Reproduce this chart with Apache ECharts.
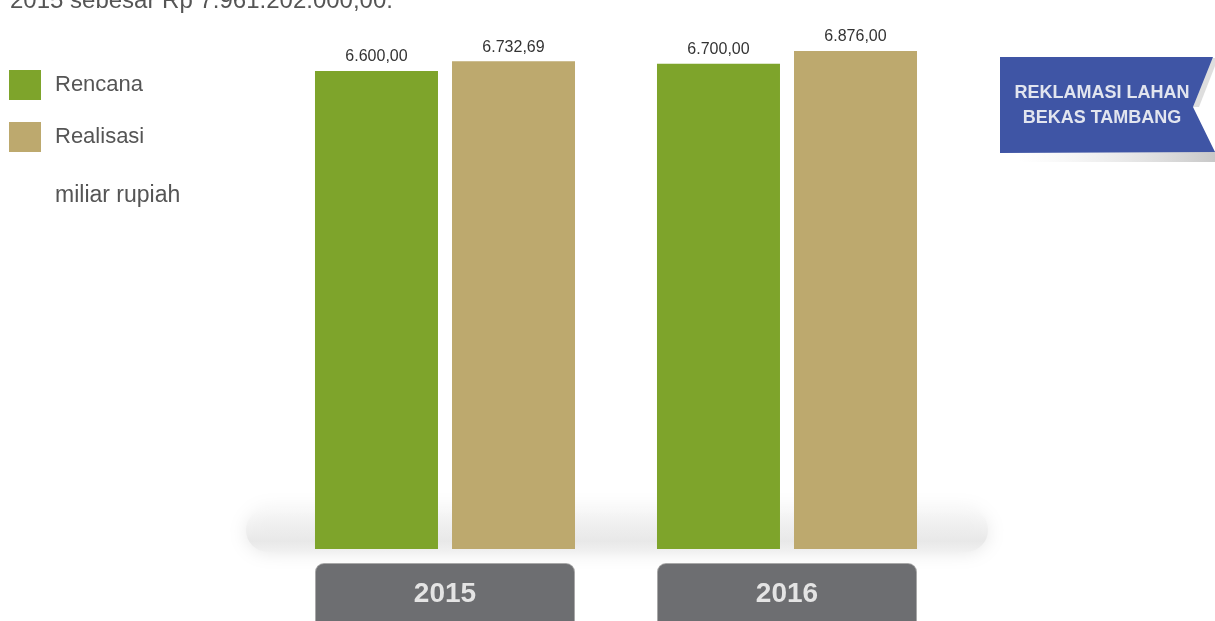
<!DOCTYPE html>
<html>
<head>
<meta charset="utf-8">
<script src="https://cdn.jsdelivr.net/npm/echarts@6/dist/echarts.min.js"></script>
<style>
html,body{margin:0;padding:0;background:#fff;}
#c{width:1215px;height:621px;}
</style>
</head>
<body>
<div id="c"></div>
<script>
const years = ['2015', '2016'];
const rencana = [6600.00, 6700.00];
const realisasi = [6732.69, 6876.00];
const seriesNames = ['Rencana', 'Realisasi'];
const unitLabel = 'miliar rupiah';
const titleText = '2015 sebesar Rp 7.961.202.000,00.';
const bannerText = 'REKLAMASI LAHAN\nBEKAS TAMBANG';

const SANS = '"Liberation Sans", Arial, sans-serif';

function fmt(v) {
  const parts = v.toFixed(2).split('.');
  return parts[0].replace(/\B(?=(\d{3})+(?!\d))/g, '.') + ',' + parts[1];
}

const chart = echarts.init(document.getElementById('c'), null, {renderer: 'canvas'});

const labelCfg = {
  show: true,
  position: 'top',
  distance: 6,
  color: '#333',
  fontSize: 16,
  fontFamily: SANS,
  formatter: p => fmt(p.value)
};

chart.setOption({
  backgroundColor: '#ffffff',
  animation: false,
  legend: {
    orient: 'vertical',
    left: 9,
    top: 70,
    padding: 0,
    itemWidth: 32,
    itemHeight: 30,
    itemGap: 22,
    icon: 'rect',
    selectedMode: false,
    data: seriesNames,
    textStyle: {
      fontSize: 22,
      color: '#555',
      fontFamily: SANS,
      padding: [3, 0, 0, 9]
    }
  },
  grid: {
    left: 274,
    width: 684,
    top: 42,
    height: 507,
    containLabel: false,
    outerBoundsMode: 'none'
  },
  xAxis: {
    type: 'category',
    data: years,
    axisLine: {show: false},
    axisTick: {show: false},
    splitLine: {show: false},
    axisLabel: {
      margin: 15,
      color: '#e4e4e4',
      fontSize: 28,
      fontWeight: 'bold',
      fontFamily: SANS,
      backgroundColor: '#6d6e71',
      borderColor: '#a8a8a8',
      borderWidth: 1,
      borderRadius: [8, 8, 0, 0],
      width: 258,
      height: 60,
      lineHeight: 60,
      align: 'center'
    }
  },
  yAxis: {
    type: 'value',
    min: 0,
    max: 7000,
    show: false
  },
  series: [
    {
      name: seriesNames[0],
      type: 'bar',
      data: rencana,
      barWidth: 123,
      barGap: '11.4%',
      itemStyle: {color: '#7ea42b'},
      label: labelCfg,
      z: 5
    },
    {
      name: seriesNames[1],
      type: 'bar',
      data: realisasi,
      barWidth: 123,
      itemStyle: {color: '#bda96e'},
      label: labelCfg,
      z: 5
    }
  ],
  graphic: [
    {
      type: 'rect',
      z: 0,
      silent: true,
      shape: {x: 246, y: 508, width: 742, height: 44, r: 22},
      style: {
        fill: new echarts.graphic.LinearGradient(0, 0, 0, 1, [
          {offset: 0, color: 'rgba(250,250,250,0.5)'},
          {offset: 0.75, color: '#e8e8e8'},
          {offset: 1, color: '#f1f1f1'}
        ]),
        shadowBlur: 18,
        shadowColor: 'rgba(210,210,210,0.6)'
      }
    },
    {
      type: 'text',
      left: 10,
      top: -11,
      silent: true,
      style: {
        text: titleText,
        fontSize: 24,
        fill: '#555',
        fontFamily: SANS
      }
    },
    {
      type: 'text',
      left: 55,
      top: 184,
      silent: true,
      style: {
        text: unitLabel,
        fontSize: 23,
        fill: '#555',
        fontFamily: SANS
      }
    },
    {
      type: 'rect',
      silent: true,
      z: 1,
      shape: {x: 1020, y: 151, width: 195, height: 11},
      style: {
        fill: new echarts.graphic.LinearGradient(0, 0, 1, 1, [
          {offset: 0, color: 'rgba(225,225,225,0)'},
          {offset: 1, color: 'rgba(190,190,190,0.85)'}
        ])
      }
    },
    {
      type: 'polygon',
      silent: true,
      z: 2,
      shape: {points: [[1211, 58], [1215, 58], [1215, 66], [1199, 107], [1193, 107]]},
      style: {fill: '#dedede'}
    },
    {
      type: 'polygon',
      silent: true,
      z: 3,
      shape: {points: [[1000, 57], [1213, 57], [1193, 107], [1215, 152], [1000, 153]]},
      style: {fill: '#3f55a5'}
    },
    {
      type: 'text',
      silent: true,
      z: 4,
      x: 1102,
      y: 106,
      style: {
        text: bannerText,
        fontSize: 18,
        fontWeight: 'bold',
        lineHeight: 25,
        fill: '#e2e5ef',
        fontFamily: SANS,
        align: 'center',
        verticalAlign: 'middle'
      }
    }
  ]
});
</script>
</body>
</html>
